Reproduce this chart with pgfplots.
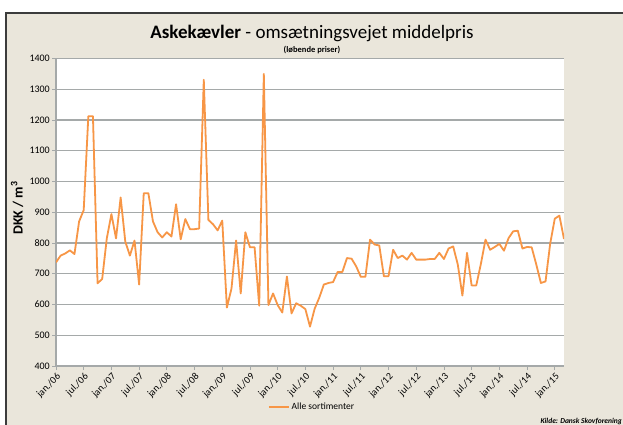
\documentclass[border=0pt]{standalone}
\usepackage{pgfplots}
\pgfplotsset{compat=1.18}
\usepackage{fontspec}
\setmainfont{Carlito}
\definecolor{bg}{RGB}{234,230,219}
\definecolor{gridc}{RGB}{165,169,169}
\definecolor{ora}{RGB}{247,150,70}
\definecolor{framec}{RGB}{60,60,60}
\begin{document}
\begin{tikzpicture}[x=1pt,y=1pt]
\useasboundingbox (0,0) rectangle (623,-425);
\fill[white] (0,0) rectangle (623,-425);
\filldraw[fill=bg, draw=framec, line width=1.5pt] (6,-13) rectangle (650,-450);
\node at (312,-33) {\fontsize{19}{21}\selectfont\textbf{Askekævler} - omsætningsvejet middelpris};
\node at (312,-50) {\fontsize{8.5}{9}\selectfont\textbf{(løbende priser)}};
\node[rotate=90] at (17,-208) {\fontsize{14}{16}\selectfont\textbf{DKK / m\textsuperscript{3}}};
\node[anchor=west] at (537,-421) {\fontsize{7.5}{8}\selectfont\bfseries\itshape Kilde: Dansk Skovforening};
\begin{axis}[
  at={(56pt,-366pt)}, anchor=south west,
  scale only axis, width=508pt, height=307.5pt,
  xmin=0, xmax=110, ymin=400, ymax=1400,
  axis background/.style={fill=white},
  axis x line=bottom, axis y line=left,
  axis line style={draw=gridc, line width=1.3pt, -},
  ytick={400,500,...,1400},
  xtick={0,6,...,108},
  xticklabels={jan./06,jul./06,jan./07,jul./07,jan./08,jul./08,jan./09,jul./09,jan./10,jul./10,jan./11,jul./11,jan./12,jul./12,jan./13,jul./13,jan./14,jul./14,jan./15},
  ymajorgrids, grid style={draw=gridc, line width=1.3pt},
  tick align=outside, major tick length=4pt,
  tick style={draw=gridc, line width=0.8pt},
  /pgf/number format/assume math mode=true,
  /pgf/number format/1000 sep={},
  yticklabel style={font=\fontsize{10}{12}\selectfont, inner sep=2pt},
  xticklabel style={font=\fontsize{10}{11}\selectfont, rotate=45, anchor=north east, inner sep=1.5pt},
  legend style={at={(0.504,-0.133)}, anchor=center, draw=none, fill=none, font=\fontsize{9.5}{10}\selectfont},
  legend image code/.code={\draw[#1] (0pt,0pt) -- (20pt,0pt);},
]
\addplot[ora, line width=1.8pt, line join=round] table {
x y
0 737
1 759
2 766
3 776
4 764
5 870
6 907
7 1212
8 1212
9 669
10 683
11 815
12 894
13 815
14 948
15 805
16 759
17 808
18 665
19 962
20 962
21 870
22 835
23 818
24 835
25 821
26 926
27 812
28 878
29 845
30 845
31 847
32 1331
33 875
34 861
35 841
36 873
37 590
38 652
39 808
40 636
41 835
42 786
43 786
44 596
45 1350
46 598
47 636
48 598
49 574
50 691
51 571
52 604
53 596
54 585
55 528
56 586
57 622
58 665
59 670
60 673
61 706
62 706
63 751
64 749
65 724
66 690
67 690
68 811
69 795
70 792
71 692
72 692
73 778
74 751
75 759
76 746
77 768
78 746
79 746
80 746
81 748
82 748
83 768
84 748
85 782
86 789
87 730
88 629
89 768
90 662
91 662
92 732
93 811
94 778
95 787
96 797
97 775
98 816
99 838
100 840
101 782
102 787
103 786
104 730
105 670
106 675
107 797
108 879
109 889
110 813
};
\addlegendentry{Alle sortimenter}
\end{axis}
\end{tikzpicture}
\end{document}
